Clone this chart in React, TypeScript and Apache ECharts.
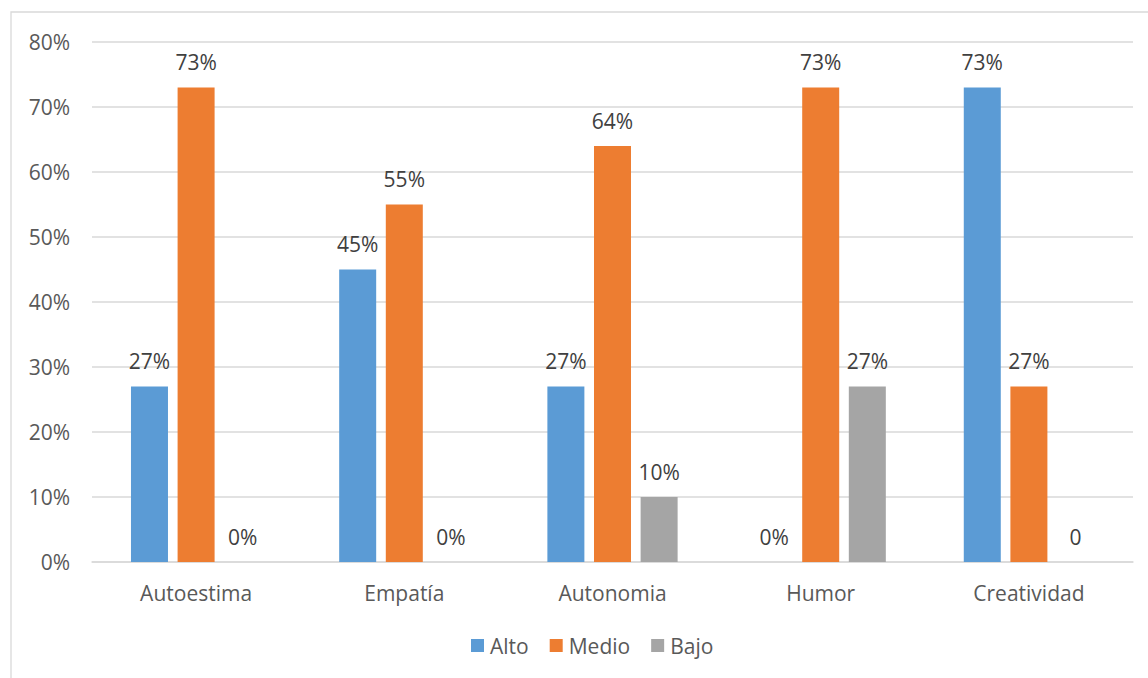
import React, { useEffect, useRef } from "react";
import * as echarts from "echarts";

const categories = ["Autoestima", "Empatía", "Autonomia", "Humor", "Creatividad"];
const seriesNames = ["Alto", "Medio", "Bajo"];
const alto = [27, 45, 27, 0, 73];
const medio = [73, 55, 64, 73, 27];
const bajo = [0, 0, 10, 27, 0];
const altoLabels = ["27%", "45%", "27%", "0%", "73%"];
const medioLabels = ["73%", "55%", "64%", "73%", "27%"];
const bajoLabels = ["0%", "0%", "10%", "27%", "0"];
const yTicks = [0, 10, 20, 30, 40, 50, 60, 70, 80];
const colors = ["#5b9bd5", "#ed7d31", "#a5a5a5"];

const FONT = "'Open Sans', 'Noto Sans', sans-serif";

export default function App() {
  const ref = useRef<HTMLDivElement>(null);
  useEffect(() => {
    if (!ref.current) return;
    const chart = echarts.init(ref.current, undefined, { renderer: "svg" });
    const values = [alto, medio, bajo];
    const labels = [altoLabels, medioLabels, bajoLabels];
    chart.setOption({
      animation: false,
      color: colors,
      textStyle: { fontFamily: FONT },
      graphic: [
        {
          type: "rect",
          shape: { x: 11, y: 12, width: 1200, height: 720 },
          style: { fill: "none", stroke: "#d9d9d9", lineWidth: 1.3 },
          silent: true,
        },
      ],
      grid: { left: 92, right: 15, top: 42, bottom: 116, containLabel: false },
      legend: {
        data: seriesNames,
        bottom: 17,
        left: 466,
        itemWidth: 13,
        itemHeight: 13,
        itemGap: 21,
        icon: "rect",
        textStyle: { fontFamily: FONT, fontSize: 21, color: "#595959", padding: [0, 0, 0, 1] },
      },
      xAxis: {
        type: "category",
        data: categories,
        axisLine: { show: true, lineStyle: { color: "#d9d9d9", width: 1.5 } },
        axisTick: { show: false },
        axisLabel: { fontFamily: FONT, fontSize: 21, color: "#595959", margin: 20 },
      },
      yAxis: {
        type: "value",
        min: yTicks[0],
        max: yTicks[yTicks.length - 1],
        interval: 10,
        axisLine: { show: false },
        axisTick: { show: false },
        splitLine: { lineStyle: { color: "#d9d9d9", width: 1.5 } },
        axisLabel: {
          fontFamily: FONT,
          fontSize: 21,
          color: "#595959",
          margin: 22,
          formatter: (v: number) => v + "%",
        },
      },
      series: seriesNames.map((name, si) => ({
        name,
        type: "bar",
        barWidth: 37,
        barGap: "26%",
        data: values[si].map((v, i) => ({
          value: v,
          label: { formatter: labels[si][i] },
        })),
        itemStyle: { color: colors[si] },
        label: {
          show: true,
          position: "top",
          distance: 15,
          fontFamily: FONT,
          fontSize: 21,
          color: "#404040",
        },
      })),
    });
    return () => chart.dispose();
  }, []);
  return (
    <div
      ref={ref}
      style={{ position: "absolute", left: 0, top: 0, width: 1148, height: 678 }}
    />
  );
}
